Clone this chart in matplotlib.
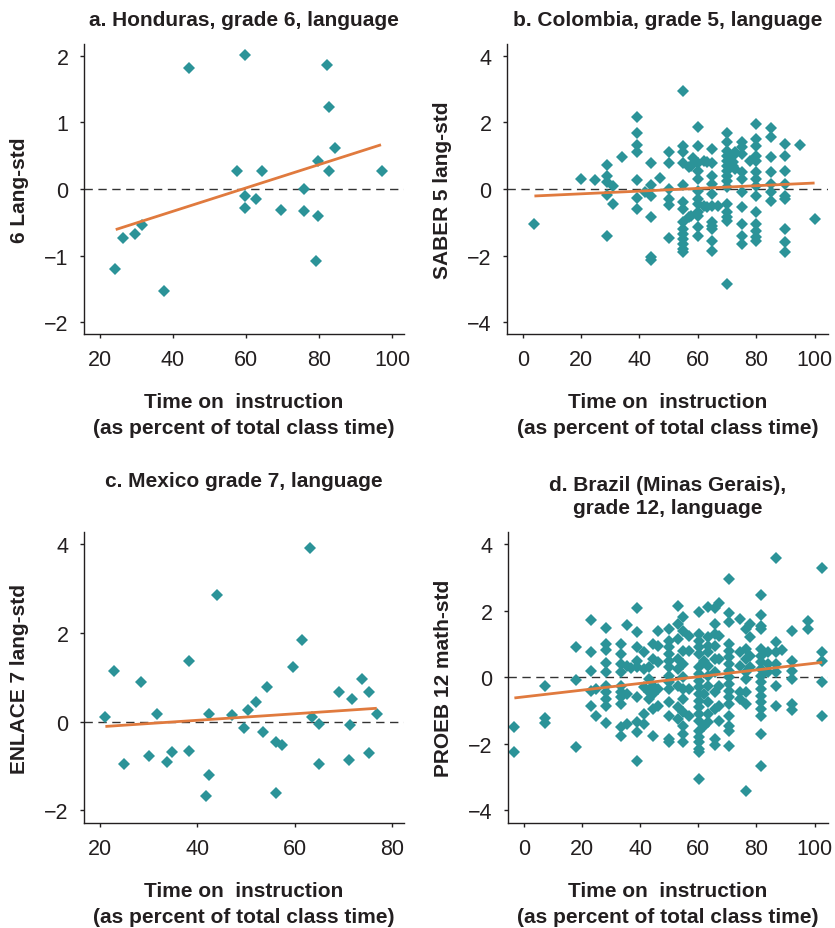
import numpy as np
import matplotlib
matplotlib.use("Agg")
import matplotlib.pyplot as plt

plt.rcParams['font.family'] = ['Liberation Sans', 'DejaVu Sans']

TEAL = '#2b9398'
ORANGE = '#e07a3e'
TXT = '#231f20'

# ---------------- data ----------------
# a. Honduras
hon_x = [24.1, 26.2, 29.5, 31.5, 37.4, 44.4, 57.5, 59.7, 59.7, 59.7, 62.7, 64.3,
         69.5, 76.0, 76.0, 79.1, 79.6, 79.6, 82.2, 82.7, 82.7, 84.4, 97.2]
hon_y = [-1.20, -0.735, -0.68, -0.535, -1.53, 1.825, 0.265, 2.015, -0.10, -0.285, -0.155, 0.265,
         -0.31, 0.0, -0.335, -1.075, -0.40, 0.415, 1.87, 1.235, 0.265, 0.62, 0.265]
hon_fit_x = [24.3, 97.0]
hon_fit_y = [-0.61, 0.665]

# b. Colombia (columns of x with y values)
col_cols = {
    4.0: [-1.05],
    20.0: [0.30],
    24.8: [0.27],
    29.0: [0.72, 0.38, 0.20, -0.18, -1.40],
    31.0: [0.10, -0.44],
    34.0: [0.97],
    39.0: [2.15, 1.67, 1.32, 1.12, 0.27, -0.28, -0.60],
    41.9: [-0.10],
    44.0: [0.77, 0.12, -0.20, -0.85, -2.05, -2.13],
    47.0: [0.32],
    50.0: [1.12, 0.77, 0.0, -0.30, -0.48, -1.48],
    55.0: [2.96, 1.30, 1.12, 0.77, 0.12, -0.40, -0.60, -1.00, -1.20, -1.35, -1.50, -1.65, -1.80, -1.90],
    57.0: [0.65, -0.85],
    57.6: [0.70, -0.82],
    58.2: [0.92],
    60.0: [1.87, 1.30, 0.77, 0.55, 0.30, -0.05, -0.30, -0.45, -0.70, -0.80, -1.15, -1.40],
    62.0: [0.85, -0.50],
    63.0: [0.80, -0.55],
    65.0: [1.20, 0.77, 0.40, 0.15, -0.15, -0.50, -1.00, -1.10, -1.20, -1.55, -1.85],
    67.0: [-0.50],
    70.0: [1.67, 1.40, 1.15, 1.00, 0.85, 0.70, 0.55, 0.40, 0.25, 0.05, -0.45, -0.70, -0.85, -0.95, -2.87],
    72.2: [1.00, 0.80, 0.70],
    72.8: [1.10, 0.60],
    75.0: [1.40, 1.25, 1.05, 0.50, 0.30, -0.10, -0.55, -1.05, -1.40, -1.65],
    78.0: [0.85],
    80.0: [1.95, 1.50, 1.30, 1.00, 0.85, 0.50, 0.30, 0.10, -0.20, -0.70, -1.05, -1.25, -1.45, -1.55],
    85.0: [1.82, 1.55, 0.95, 0.50, 0.15, -0.10, -0.35],
    90.0: [1.35, 1.00, 0.55, 0.15, -0.20, -0.30, -1.20, -1.60, -1.90],
    95.0: [1.32],
    100.0: [-0.90],
}
col_fit_x = [4.0, 100.0]
col_fit_y = [-0.21, 0.18]

# c. Mexico
mex_x = [21.0, 22.9, 24.9, 28.4, 30.0, 31.8, 33.8, 34.8, 38.3, 38.3, 41.8, 42.5, 42.5,
         44.0, 47.2, 49.5, 50.5, 52.0, 53.6, 54.3, 56.2, 56.2, 57.4, 59.7, 61.6, 63.2,
         63.5, 65.1, 65.1, 69.2, 71.2, 71.4, 71.9, 73.8, 75.3, 75.3, 76.9]
mex_y = [0.10, 1.15, -0.955, 0.90, -0.77, 0.17, -0.92, -0.69, 1.375, -0.66, -1.68, -1.195, 0.17,
         2.85, 0.15, -0.15, 0.26, 0.435, -0.24, 0.78, -0.47, -1.62, -0.52, 1.23, 1.835, 3.91,
         0.10, -0.05, -0.955, 0.67, -0.87, -0.07, 0.52, 0.97, 0.67, -0.72, 0.17]
mex_fit_x = [21.1, 76.9]
mex_fit_y = [-0.11, 0.30]

# d. Brazil (Minas Gerais)
bra_cols = {
    -3.2: [-1.50, -2.25],
    7.4: [-0.27, -1.23, -1.37],
    18.0: [0.90, -0.07, -2.10],
    23.2: [1.72, 0.75, 0.19, -0.40, -0.87],
    24.7: [-0.35, -1.15],
    28.4: [1.47, 1.00, 0.83, 0.43, 0.15, -0.25, -0.45, -0.65, -0.85, -1.37],
    33.6: [1.00, 0.70, 0.40, 0.15, -0.25, -0.45, -0.60, -0.80, -1.50, -1.75],
    35.5: [1.57, 0.35, -0.50, -1.40],
    37.0: [0.27],
    39.1: [2.07, 1.37, 0.90, 0.50, 0.30, -0.60, -1.35, -1.65, -2.53],
    41.5: [0.77, 0.25, -0.30, -1.10, -1.40],
    42.9: [0.30, -0.05, -0.45, -0.65],
    44.3: [1.00, 0.55, -0.25, -0.50, -0.95, -1.77],
    46.1: [1.40, 0.95, 0.45, -0.35, -0.85],
    49.8: [1.45, 1.10, 0.90, 0.70, 0.50, 0.30, 0.05, -0.15, -0.35, -0.75, -1.15, -1.85, -1.93],
    53.2: [2.15, 1.60, 1.15, 0.55, 0.25, -0.25, -0.90, -1.25],
    54.9: [1.80, 1.40, 0.80, 0.40, 0.00, -0.35, -0.65, -1.05, -1.45, -1.70, -1.95],
    56.9: [1.25, 0.80, -0.35, -1.15],
    60.1: [1.97, 1.30, 1.10, 0.90, 0.70, 0.30, 0.10, -0.10, -0.30, -0.50, -0.70, -0.90, -1.10,
           -1.30, -1.60, -1.80, -1.95, -2.15, -2.25, -3.05],
    62.1: [0.50, -0.50, -1.45],
    63.5: [2.10, 1.20, 0.95, 0.75, 0.35, 0.05, -0.25, -0.75, -1.10, -1.35],
    65.6: [2.08, 1.60, 1.30, 0.95, 0.55, 0.15, -0.45, -0.95, -1.85, -2.03],
    67.2: [2.25, 1.25, 0.55, -0.25, -0.85, -1.30],
    70.4: [2.97, 1.93, 1.67, 1.00, 0.80, 0.60, 0.40, 0.20, 0.00, -0.20, -0.40, -0.60, -0.80,
           -1.15, -1.45, -1.60, -2.07],
    74.4: [1.75, 0.75, 0.35, -0.45, -0.65],
    76.3: [1.45, 0.85, 0.55, 0.15, -0.05, -0.45, -0.80, -3.43],
    77.8: [1.60, 1.20, 0.65, 0.30],
    81.6: [2.47, 1.87, 1.55, 1.45, 0.85, 0.65, 0.45, 0.25, 0.05, -0.15, -0.35, -0.55, -0.75,
           -0.95, -1.15, -1.70, -2.67],
    84.1: [0.75, 0.40, 0.15],
    86.6: [3.58, 1.07, 0.75, 0.40, 0.15, -0.25, -0.85],
    88.7: [0.83],
    92.1: [1.40, 0.50, 0.20, -0.05, -0.80, -0.97],
    97.6: [1.70, 1.45],
    102.6: [3.28, 0.77, 0.50, -0.13, -1.15],
}
bra_fit_x = [-3.2, 102.6]
bra_fit_y = [-0.62, 0.45]


def flatten(cols):
    xs, ys = [], []
    for k, v in cols.items():
        xs.extend([k] * len(v))
        ys.extend(v)
    return xs, ys


col_x, col_y = flatten(col_cols)
bra_x, bra_y = flatten(bra_cols)

W, H = 835, 929
fig = plt.figure(figsize=(W / 100, H / 100), dpi=100)


def pos(l, t, r, b):
    return [l / W, 1 - b / H, (r - l) / W, (b - t) / H]


XLAB = 'Time on  instruction\n(as percent of total class time)'

panels = [
    dict(rect=pos(84, 45, 404, 335), x=hon_x, y=hon_y, fx=hon_fit_x, fy=hon_fit_y,
         xlim=(15.6, 103.3), ylim=(-2.18, 2.18), xt=[20, 40, 60, 80, 100], yt=[-2, -1, 0, 1, 2],
         title='a. Honduras, grade 6, language', tpad=14, ylabel='6 Lang-std'),
    dict(rect=pos(507, 45, 828, 335), x=col_x, y=col_y, fx=col_fit_x, fy=col_fit_y,
         xlim=(-5.4, 104.6), ylim=(-4.36, 4.36), xt=[0, 20, 40, 60, 80, 100], yt=[-4, -2, 0, 2, 4],
         title='b. Colombia, grade 5, language', tpad=14, ylabel='SABER 5 lang-std'),
    dict(rect=pos(84, 533, 404, 824), x=mex_x, y=mex_y, fx=mex_fit_x, fy=mex_fit_y,
         xlim=(16.7, 82.5), ylim=(-2.29, 4.28), xt=[20, 40, 60, 80], yt=[-2, 0, 2, 4],
         title='c. Mexico grade 7, language', tpad=33, ylabel='ENLACE 7 lang-std'),
    dict(rect=pos(508, 533, 828, 824), x=bra_x, y=bra_y, fx=bra_fit_x, fy=bra_fit_y,
         xlim=(-5.4, 104.6), ylim=(-4.38, 4.37), xt=[0, 20, 40, 60, 80, 100], yt=[-4, -2, 0, 2, 4],
         title='d. Brazil (Minas Gerais),\ngrade 12, language', tpad=14, ylabel='PROEB 12 math-std'),
]

for p in panels:
    ax = fig.add_axes(p['rect'])
    ax.axhline(0, color='#333333', lw=1.0, dashes=(6, 4), zorder=1)
    ax.plot(p['x'], p['y'], linestyle='none', marker='D', ms=5.7, color=TEAL,
            markeredgewidth=0, zorder=2)
    ax.plot(p['fx'], p['fy'], color=ORANGE, lw=2.0, zorder=3, solid_capstyle='butt')
    ax.set_xlim(*p['xlim'])
    ax.set_ylim(*p['ylim'])
    ax.set_xticks(p['xt'])
    ax.set_yticks(p['yt'])
    for s in ['top', 'right']:
        ax.spines[s].set_visible(False)
    for s in ['left', 'bottom']:
        ax.spines[s].set_color('#231f20')
        ax.spines[s].set_linewidth(1.0)
    ax.tick_params(direction='out', length=3, width=1, color='#231f20', pad=8,
                   labelsize=15.5, labelcolor=TXT)
    ax.set_title(p['title'], fontsize=15, fontweight='bold', color=TXT, pad=p['tpad'],
                 linespacing=1.25)
    ax.set_ylabel(p['ylabel'], fontsize=15, fontweight='bold', color=TXT, labelpad=11)
    ax.set_xlabel(XLAB, fontsize=15, fontweight='bold', color=TXT, labelpad=16,
                  linespacing=1.42)

fig.savefig('out.png', dpi=100)
